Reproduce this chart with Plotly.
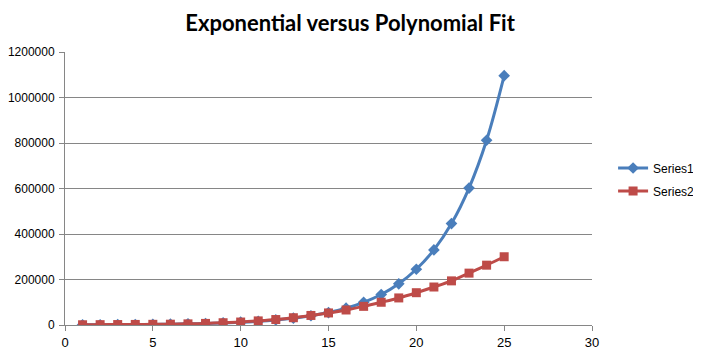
import plotly.graph_objects as go

x_vals = list(range(1, 26))
series1 = [800, 1100, 1500, 2000, 2700, 3700, 5000, 6700, 9100, 12200,
           16500, 22300, 30000, 40600, 54700, 73800, 99600, 134000, 181000,
           245000, 330000, 446000, 602000, 812000, 1096000]
series2 = [1000, 1500, 2000, 2500, 3000, 3500, 5000, 7000, 10000, 13000,
           18000, 24000, 32000, 42000, 53000, 66000, 82000, 100000, 119000,
           142000, 167000, 194000, 228000, 263000, 300000]
x_ticks = [0, 5, 10, 15, 20, 25, 30]
y_ticks = [0, 200000, 400000, 600000, 800000, 1000000, 1200000]

fig = go.Figure()
fig.add_trace(go.Scatter(
    x=x_vals, y=series1, name="Series1", mode="lines+markers", legendgroup="s1",
    line=dict(color="#4A7EBB", width=3, shape="spline"),
    marker=dict(symbol="diamond", size=9, color="#4A7EBB"),
))
fig.add_trace(go.Scatter(
    x=x_vals, y=series2, name="Series2", mode="lines+markers", legendgroup="s2",
    line=dict(color="#BE4B48", width=3, shape="spline"),
    marker=dict(symbol="square", size=9, color="#BE4B48"),
))

fig.update_layout(
    width=701, height=357,
    margin=dict(l=57, r=117, t=44, b=40, autoexpand=False),
    paper_bgcolor="white", plot_bgcolor="white",
    font=dict(family="Liberation Sans, Arial", size=12, color="#000000"),
    title=dict(text="<b>Exponential versus Polynomial Fit</b>", x=0.488, xanchor="center",
               y=0.957, yanchor="middle",
               font=dict(family="Lato, Open Sans", size=22, color="#000000")),
    showlegend=True,
    legend=dict(x=1.04, xanchor="left", y=0.533, yanchor="middle",
                font=dict(family="Liberation Sans, Arial", size=12),
                tracegroupgap=4, itemwidth=30),
    xaxis=dict(range=[0, 30], tickvals=x_ticks, showgrid=False, zeroline=False,
               showline=True, linecolor="#868686", linewidth=1, automargin=False,
               ticks="outside", ticklen=5, tickcolor="#868686",
               tickfont=dict(size=13)),
    yaxis=dict(range=[0, 1200000], tickvals=y_ticks, tickformat="d",
               showgrid=True, gridcolor="#868686", gridwidth=1, zeroline=False,
               showline=True, linecolor="#868686", linewidth=1, automargin=False,
               ticks="outside", ticklen=5, tickcolor="#868686",
               ticklabelstandoff=2),
)

fig.write_html("out.html")
